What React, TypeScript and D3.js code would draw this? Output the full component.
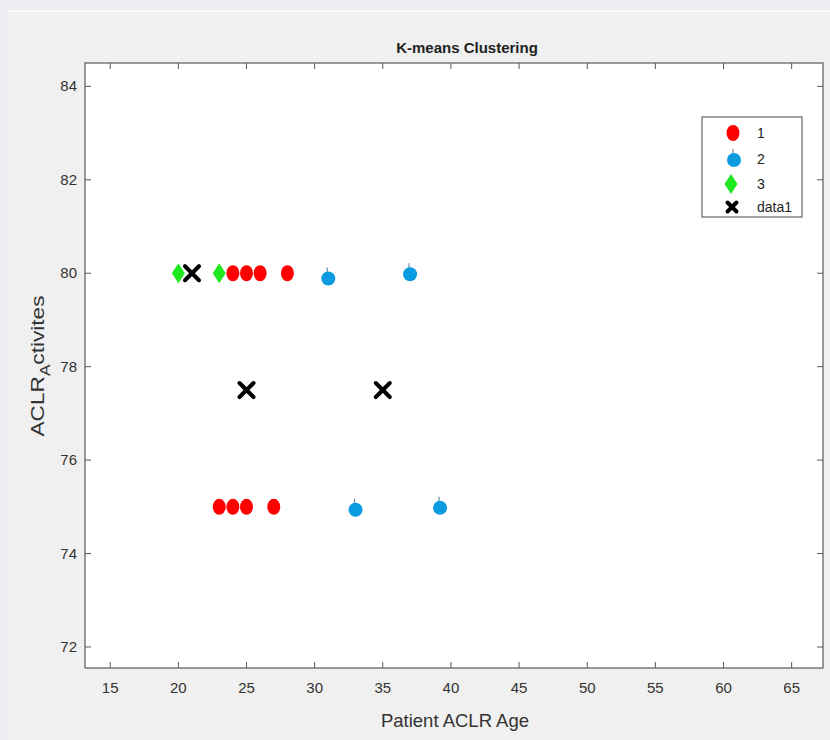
import React from "react";
import * as d3 from "d3";

const cluster1X = [24, 25, 26, 28, 23, 24, 25, 27];
const cluster1Y = [80, 80, 80, 80, 75, 75, 75, 75];
const cluster2X = [31, 37, 33, 39.2];
const cluster2Y = [79.91, 80, 74.96, 75];
const cluster3X = [20, 23];
const cluster3Y = [80, 80];
const centroidX = [21, 25, 35];
const centroidY = [80, 77.5, 77.5];
const xTicks = [15, 20, 25, 30, 35, 40, 45, 50, 55, 60, 65];
const yTicks = [72, 74, 76, 78, 80, 82, 84];
const legendLabels = ["1", "2", "3", "data1"];

const W = 830;
const H = 740;
const box = { left: 85, right: 823, top: 63, bottom: 668 };
const FONT = "'Liberation Sans', Arial, sans-serif";

const x = d3.scaleLinear().domain([13.15, 67.3]).range([box.left, box.right]);
const y = d3.scaleLinear().domain([71.55, 84.5]).range([box.bottom, box.top]);

const RED = "#ff0000";
const BLUE = "#0a9be0";
const GREEN = "#1ee81e";

function Red({ cx, cy }: { cx: number; cy: number }) {
  return <ellipse cx={cx} cy={cy} rx={6.5} ry={8} fill={RED} />;
}
function Blue({ cx, cy }: { cx: number; cy: number }) {
  return (
    <g>
      <line x1={cx - 1} x2={cx - 1} y1={cy - 10} y2={cy - 3} stroke="#6a8aa0" strokeWidth={1.2} />
      <circle cx={cx} cy={cy + 1} r={7} fill={BLUE} />
    </g>
  );
}
function Green({ cx, cy }: { cx: number; cy: number }) {
  const p = d3.path();
  p.moveTo(cx, cy - 10);
  p.lineTo(cx + 6.5, cy);
  p.lineTo(cx, cy + 10);
  p.lineTo(cx - 6.5, cy);
  p.closePath();
  return <path d={p.toString()} fill={GREEN} />;
}
function Cross({ cx, cy, s = 7 }: { cx: number; cy: number; s?: number }) {
  return (
    <g stroke="#000" strokeWidth={4} strokeLinecap="round">
      <line x1={cx - s} y1={cy - s} x2={cx + s} y2={cy + s} />
      <line x1={cx - s} y1={cy + s} x2={cx + s} y2={cy - s} />
    </g>
  );
}

export default function App() {
  const tickLen = 6;
  const legend = { x: 702, y: 117, w: 100, h: 100 };
  const legendRows = [133, 159, 184, 207];
  return (
    <svg
      width={W}
      height={H}
      style={{ position: "absolute", left: 0, top: 0, display: "block" }}
    >
      <rect x={0} y={0} width={W} height={H} fill="#eceef1" />
      <rect x={7} y={11} width={W - 7} height={H - 11} fill="#f0f0f0" />
      <line x1={7} x2={W} y1={11} y2={11} stroke="#ffffff" strokeWidth={1.5} />
      <rect
        x={box.left}
        y={box.top}
        width={box.right - box.left}
        height={box.bottom - box.top}
        fill="#ffffff"
      />
      {/* ticks */}
      <g stroke="#555" strokeWidth={1}>
        {xTicks.map((t) => (
          <g key={"xt" + t}>
            <line x1={x(t)} x2={x(t)} y1={box.bottom} y2={box.bottom - tickLen} />
            <line x1={x(t)} x2={x(t)} y1={box.top} y2={box.top + tickLen} />
          </g>
        ))}
        {yTicks.map((t) => (
          <g key={"yt" + t}>
            <line x1={box.left} x2={box.left + tickLen} y1={y(t)} y2={y(t)} />
            <line x1={box.right} x2={box.right - tickLen} y1={y(t)} y2={y(t)} />
          </g>
        ))}
      </g>
      <rect
        x={box.left}
        y={box.top}
        width={box.right - box.left}
        height={box.bottom - box.top}
        fill="none"
        stroke="#666"
        strokeWidth={1.3}
      />
      {/* tick labels */}
      <g fontFamily={FONT} fontSize={15} fill="#333">
        {xTicks.map((t) => (
          <text key={"xl" + t} x={x(t)} y={box.bottom + 25} textAnchor="middle">
            {t}
          </text>
        ))}
        {yTicks.map((t) => (
          <text key={"yl" + t} x={box.left - 8} y={y(t) + 5} textAnchor="end">
            {t}
          </text>
        ))}
      </g>
      {/* title */}
      <text
        x={467}
        y={53}
        textAnchor="middle"
        fontFamily={FONT}
        fontSize={15}
        fontWeight="bold"
        fill="#222"
      >
        K-means Clustering
      </text>
      {/* axis labels */}
      <text
        x={455}
        y={727}
        textAnchor="middle"
        fontFamily={FONT}
        fontSize={18.5}
        fill="#333"
      >
        Patient ACLR Age
      </text>
      <text
        transform="translate(44,366) rotate(-90)"
        textAnchor="middle"
        fontFamily={FONT}
        fontSize={18.5}
        fill="#333"
        textLength={141}
        lengthAdjust="spacingAndGlyphs"
      >
        ACLR
        <tspan dy={6} fontSize={14}>A</tspan>
        <tspan dy={-6}>ctivites</tspan>
      </text>
      {/* data */}
      {cluster3X.map((v, i) => (
        <Green key={"g" + i} cx={x(v)} cy={y(cluster3Y[i])} />
      ))}
      {cluster1X.map((v, i) => (
        <Red key={"r" + i} cx={x(v)} cy={y(cluster1Y[i])} />
      ))}
      {cluster2X.map((v, i) => (
        <Blue key={"b" + i} cx={x(v)} cy={y(cluster2Y[i])} />
      ))}
      {centroidX.map((v, i) => (
        <Cross key={"c" + i} cx={x(v)} cy={y(centroidY[i])} />
      ))}
      {/* legend */}
      <rect
        x={legend.x}
        y={legend.y}
        width={legend.w}
        height={legend.h}
        fill="#ffffff"
        stroke="#666"
        strokeWidth={1.2}
      />
      <Red cx={733} cy={legendRows[0]} />
      <Blue cx={734} cy={legendRows[1]} />
      <Green cx={731} cy={legendRows[2]} />
      <Cross cx={732} cy={legendRows[3]} s={4.5} />
      <g fontFamily={FONT} fontSize={14} fill="#222">
        {legendLabels.map((l, i) => (
          <text key={l} x={757} y={legendRows[i] + 5}>
            {l}
          </text>
        ))}
      </g>
    </svg>
  );
}
